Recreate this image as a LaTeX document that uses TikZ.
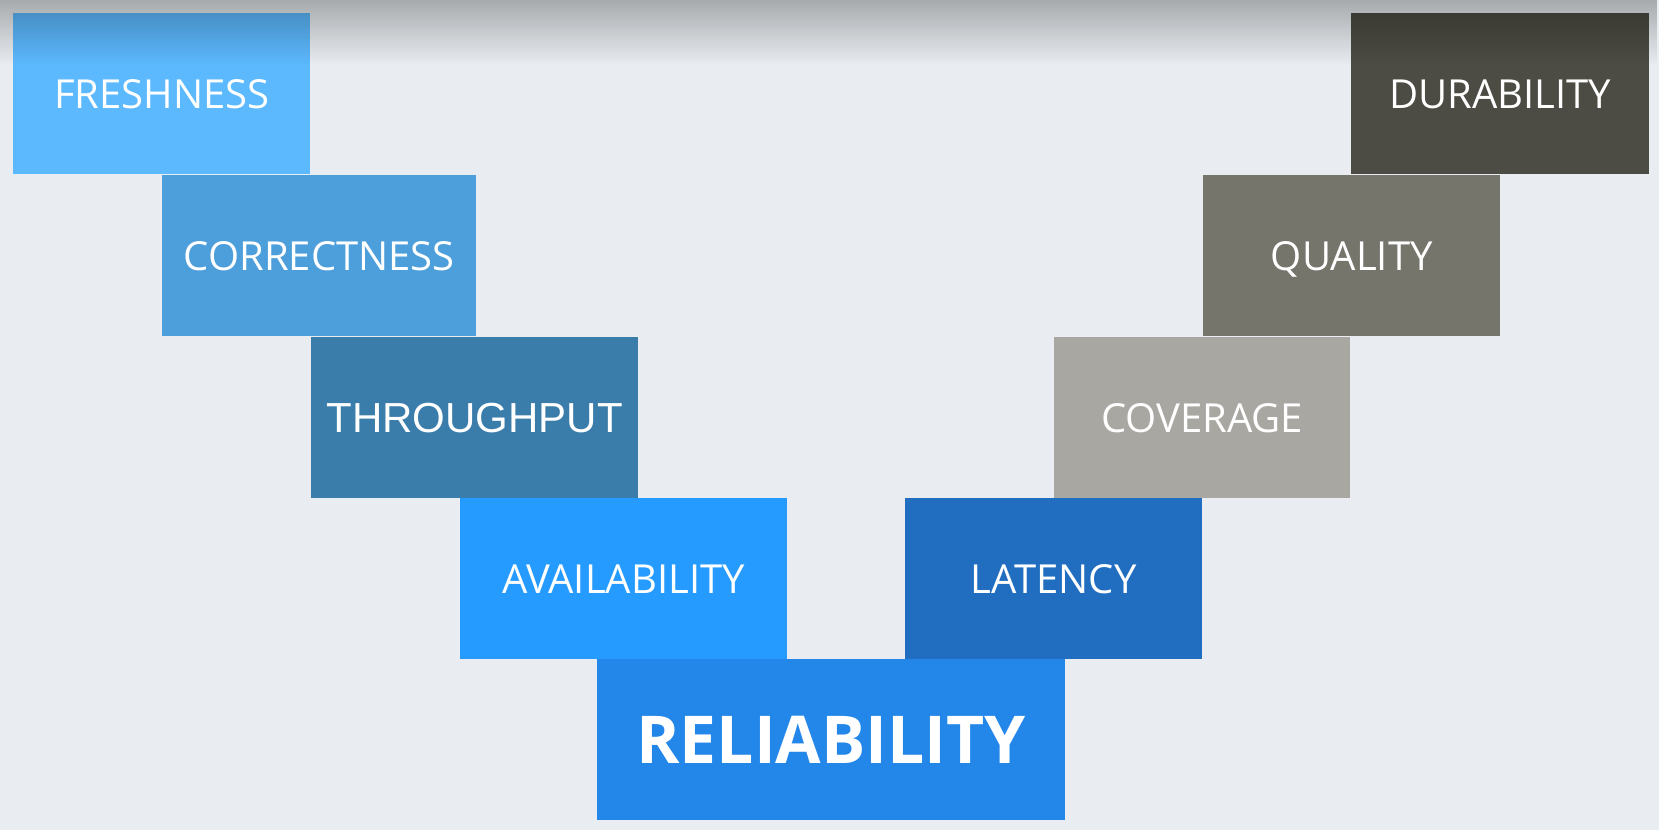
\documentclass[tikz,border=0pt]{standalone}
\usepackage{fontspec}
\setmainfont{Open Sans}
\newfontfamily\arialfont{Liberation Sans}
\usetikzlibrary{fadings}
\definecolor{bgcol}{HTML}{E9EDF1}
\definecolor{cfresh}{HTML}{5CB9FE}
\definecolor{ccorrect}{HTML}{4D9FDB}
\definecolor{cthrough}{HTML}{3B7DAA}
\definecolor{cavail}{HTML}{269BFF}
\definecolor{creliab}{HTML}{2386E9}
\definecolor{clatency}{HTML}{216EC1}
\definecolor{ccoverage}{HTML}{A8A7A2}
\definecolor{cquality}{HTML}{76756C}
\definecolor{cdurab}{HTML}{4C4C44}
\tikzset{
  tile/.style={rectangle, anchor=north west, inner sep=0pt, text=white,
    minimum height=161pt, text depth=-3pt, font=\fontsize{40}{40}\selectfont},
}
\begin{document}
\begin{tikzpicture}[x=1pt,y=-1pt]
\fill[bgcol] (0,0) rectangle (1659,830);
\useasboundingbox (0,0) rectangle (1659,830);
% left staircase
\node[tile, fill=cfresh, minimum width=297pt] (fresh) at (13,13) {FRESHNESS};
\node[tile, fill=ccorrect, minimum width=314pt] (correct) at (162,175) {CORRECTNESS};
\node[tile, fill=cthrough, minimum width=327pt, font=\arialfont\fontsize{42}{42}\selectfont] (through) at (311,337) {THROUGHPUT};
\node[tile, fill=cavail, minimum width=327pt] (avail) at (460,498) {AVAILABILITY};
% base
\node[tile, fill=creliab, minimum width=468pt, font=\bfseries\fontsize{66}{66}\selectfont] (reliab) at (597,659) {RELIABILITY};
% right staircase
\node[tile, fill=clatency, minimum width=297pt] (latency) at (905,498) {LATENCY};
\node[tile, fill=ccoverage, minimum width=296pt] (coverage) at (1054,337) {COVERAGE};
\node[tile, fill=cquality, minimum width=297pt] (quality) at (1203,175) {QUALITY};
\node[tile, fill=cdurab, minimum width=298pt] (durab) at (1351,13) {DURABILITY};
% soft shadow along the top edge
\fill[black, opacity=0.28, path fading=south] (0,0) rectangle (1659,65);
\end{tikzpicture}
\end{document}
